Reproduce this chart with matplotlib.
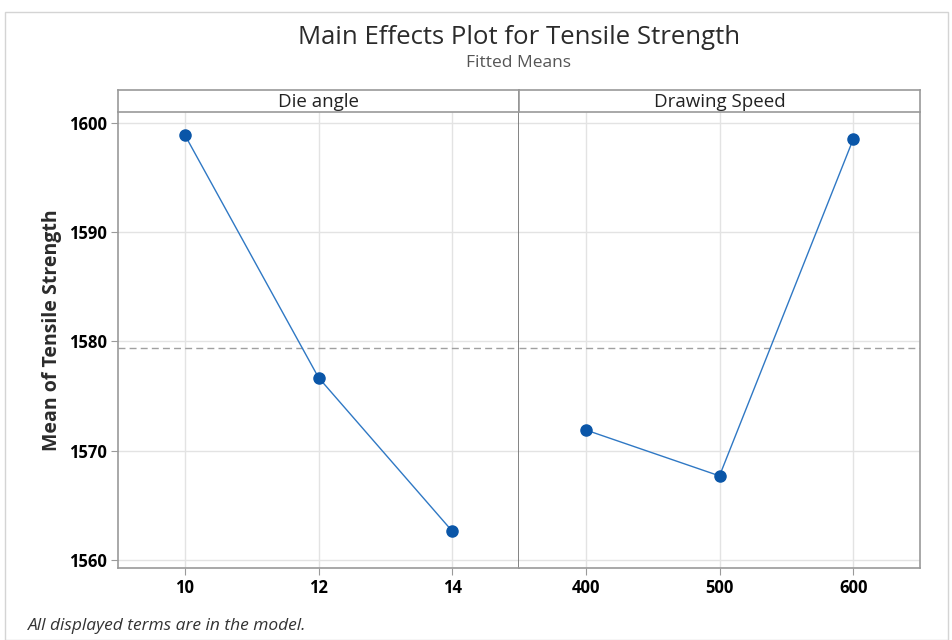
import matplotlib
matplotlib.use("Agg")
import matplotlib.pyplot as plt
from matplotlib.patches import Rectangle

# Fitted means for each factor level
die_angle_levels = [10, 12, 14]
die_angle_means = [1598.9, 1576.7, 1562.65]
speed_levels = [400, 500, 600]
speed_means = [1571.9, 1567.7, 1598.5]
grand_mean = 1579.4

factor_names = ["Die angle", "Drawing Speed"]
y_ticks = [1560, 1570, 1580, 1590, 1600]

W, H = 953, 640
fig = plt.figure(figsize=(W / 100, H / 100), dpi=100)
plt.rcParams["font.family"] = ["Open Sans", "DejaVu Sans"]

def fx(px):
    return px / W

def fy(py):
    return 1 - py / H

frame_col = "#9a9a9a"
grid_col = "#e3e3e3"
line_col = "#2f78c4"
marker_col = "#0a56a8"

# outer graph border
fig.patches.append(Rectangle((fx(5), fy(640)), fx(948) - fx(5), fy(12) - fy(640),
                             transform=fig.transFigure, fill=False,
                             edgecolor="#d4d4d4", lw=1.0))

panels = [
    (118, 519, die_angle_levels, die_angle_means, (9, 15)),
    (519, 920, speed_levels, speed_means, (350, 650)),
]
top, bottom, head_top = 112, 568, 90

for i, (x0, x1, lv, mn, xl) in enumerate(panels):
    ax = fig.add_axes([fx(x0), fy(bottom), fx(x1) - fx(x0), fy(top) - fy(bottom)])
    ax.set_xlim(*xl)
    ax.set_ylim(1559.27, 1601.0)
    ax.set_xticks(lv)
    ax.set_yticks(y_ticks)
    ax.grid(True, color=grid_col, lw=1.0)
    ax.set_axisbelow(True)
    ax.axhline(grand_mean, color="#a0a0a0", lw=1.0, ls=(0, (5, 3)), zorder=2)
    ax.plot(lv, mn, color=line_col, lw=1.0, zorder=3)
    ax.plot(lv, mn, "o", color=marker_col, ms=8, zorder=4)
    for s in ax.spines.values():
        s.set_color(frame_col)
        s.set_linewidth(1.2)
    ax.spines["top"].set_visible(False)
    if i == 0:
        ax.spines["right"].set_color("#6e6e6e")
        ax.tick_params(axis="y", length=5, color=frame_col, labelsize=12, pad=3)
        for t in ax.get_yticklabels():
            t.set_fontweight("bold")
    else:
        ax.spines["left"].set_visible(False)
        ax.tick_params(axis="y", left=False, labelleft=False)
    ax.tick_params(axis="x", length=5, color=frame_col, labelsize=12, pad=3)
    for t in ax.get_xticklabels():
        t.set_fontweight("bold")

    # factor header strip
    hx = fig.add_axes([fx(x0), fy(top), fx(x1) - fx(x0), fy(head_top) - fy(top)])
    hx.set_xticks([])
    hx.set_yticks([])
    for s in hx.spines.values():
        s.set_color(frame_col)
        s.set_linewidth(1.2)
    hx.spines["right"].set_color("#6e6e6e" if i == 0 else frame_col)
    hx.text(0.5, 0.45, factor_names[i], ha="center", va="center",
            fontsize=13.5, color="#222222", transform=hx.transAxes)

fig.text(fx(519), fy(37), "Main Effects Plot for Tensile Strength", ha="center",
         va="center", fontsize=18.5, color="#2b2b2b")
fig.text(fx(519), fy(63), "Fitted Means", ha="center", va="center",
         fontsize=12.5, color="#555555")
fig.text(fx(52), fy(330), "Mean of Tensile Strength", ha="center", va="center",
         rotation=90, fontsize=14, fontweight="bold", color="#2b2b2b")
fig.text(fx(28), fy(626), "All displayed terms are in the model.", ha="left",
         va="center", fontsize=12.5, style="italic", color="#333333")

fig.savefig("out.png", dpi=100)
